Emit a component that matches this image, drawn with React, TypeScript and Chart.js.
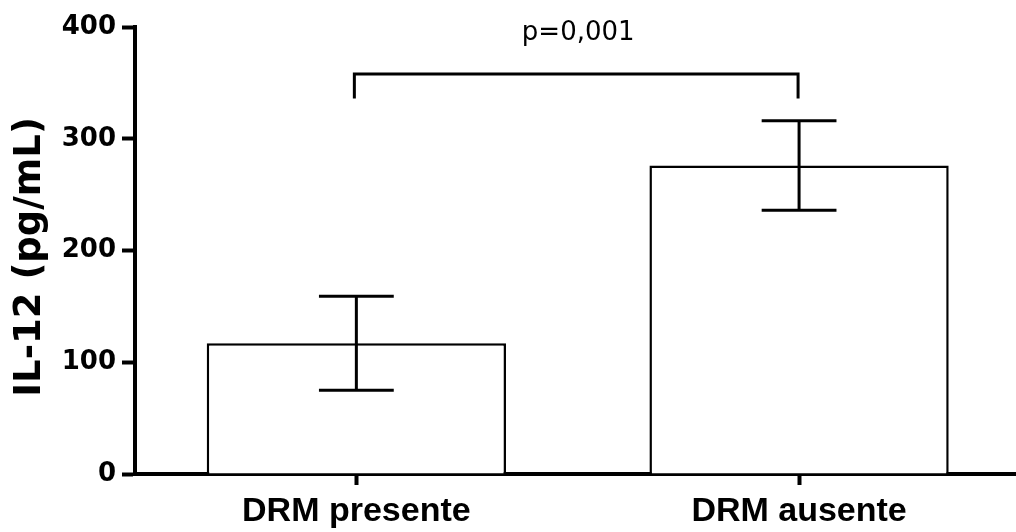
import React, { useEffect, useRef } from "react";
import { Chart, registerables } from "chart.js";

Chart.register(...registerables);

const categories = ["DRM presente", "DRM ausente"];
const means = [117, 276];
const errors = [42, 40];
const yTickValues = [0, 100, 200, 300, 400];
const yTitle = "IL-12 (pg/mL) ";
const pLabel = "p=0,001";
const bracketLevel = 358;
const bracketFoot = 336;
const pLabelLevel = 394;

const errorBarPlugin = {
  id: "errorBars",
  afterDatasetsDraw(chart: any) {
    const { ctx } = chart;
    const y = chart.scales.y;
    const meta = chart.getDatasetMeta(0);
    ctx.save();
    ctx.strokeStyle = "#000";
    ctx.lineWidth = 3;
    ctx.lineCap = "butt";
    meta.data.forEach((bar: any, i: number) => {
      const x = bar.x;
      const half = bar.width * 0.125;
      const top = y.getPixelForValue(means[i] + errors[i]);
      const bot = y.getPixelForValue(means[i] - errors[i]);
      ctx.beginPath();
      ctx.moveTo(x, top);
      ctx.lineTo(x, bot);
      ctx.moveTo(x - half, top);
      ctx.lineTo(x + half, top);
      ctx.moveTo(x - half, bot);
      ctx.lineTo(x + half, bot);
      ctx.stroke();
    });
    ctx.restore();
  },
};

const bracketPlugin = {
  id: "bracket",
  afterDraw(chart: any) {
    const { ctx } = chart;
    const x = chart.scales.x;
    const y = chart.scales.y;
    const x1 = x.getPixelForValue(0) - 2;
    const x2 = x.getPixelForValue(1) - 1;
    const yTop = y.getPixelForValue(bracketLevel);
    const yFoot = y.getPixelForValue(bracketFoot);
    ctx.save();
    ctx.strokeStyle = "#000";
    ctx.lineWidth = 3;
    ctx.lineJoin = "miter";
    ctx.beginPath();
    ctx.moveTo(x1, yFoot);
    ctx.lineTo(x1, yTop);
    ctx.lineTo(x2, yTop);
    ctx.lineTo(x2, yFoot);
    ctx.stroke();
    ctx.fillStyle = "#000";
    ctx.font = "26px 'DejaVu Sans'";
    ctx.textAlign = "center";
    ctx.textBaseline = "middle";
    ctx.fillText(pLabel, (x1 + x2) / 2 + 2, y.getPixelForValue(pLabelLevel));
    ctx.restore();
  },
};

export default function App() {
  const canvasRef = useRef<HTMLCanvasElement | null>(null);

  useEffect(() => {
    if (!canvasRef.current) return;
    const chart = new Chart(canvasRef.current, {
      type: "bar",
      data: {
        datasets: [
          {
            data: means.map((v, i) => ({ x: i, y: v })),
            backgroundColor: "#ffffff",
            borderColor: "#000000",
            borderWidth: 2.5,
            borderSkipped: "start",
            barPercentage: 0.676,
            categoryPercentage: 1,
          },
        ],
      },
      options: {
        animation: false,
        responsive: true,
        maintainAspectRatio: false,
        layout: { padding: { top: 27, right: 0, left: 0, bottom: 0 } },
        plugins: {
          legend: { display: false },
          tooltip: { enabled: false },
        },
        scales: {
          x: {
            type: "linear",
            min: -0.5,
            max: 1.49,
            offset: false,
            afterBuildTicks: (scale: any) => {
              scale.ticks = categories.map((_, i) => ({ value: i }));
            },
            afterFit: (scale: any) => {
              scale.height = 58;
            },
            ticks: {
              autoSkip: false,
              maxRotation: 0,
              padding: 6,
              color: "#000",
              font: { family: "'Liberation Sans', Arial, sans-serif", size: 34, weight: "bold" },
              callback: (v: any) => categories[v] ?? "",
            },
            grid: {
              offset: false,
              drawOnChartArea: false,
              drawTicks: true,
              tickLength: 11,
              tickWidth: 4,
              tickColor: "#000",
            },
            border: { display: true, color: "#000", width: 4 },
          },
          y: {
            type: "linear",
            min: 0,
            max: 400,
            afterBuildTicks: (scale: any) => {
              scale.ticks = yTickValues.map((v) => ({ value: v }));
            },
            afterFit: (scale: any) => {
              scale.width = 135;
            },
            ticks: {
              padding: 6,
              color: "#000",
              font: { family: "'DejaVu Sans'", size: 26, weight: "bold" },
            },
            grid: {
              drawOnChartArea: false,
              drawTicks: true,
              tickLength: 13,
              tickWidth: 4,
              tickColor: "#000",
            },
            border: { display: true, color: "#000", width: 4 },
            title: {
              display: true,
              text: yTitle,
              color: "#000",
              font: { family: "'DejaVu Sans'", size: 37, weight: "bold" },
              padding: { top: 8, bottom: 0 },
            },
          },
        },
      },
      plugins: [errorBarPlugin, bracketPlugin],
    } as any);
    return () => chart.destroy();
  }, []);

  return (
    <div
      style={{
        position: "fixed",
        left: 0,
        top: 0,
        width: 1016,
        height: 532,
        background: "#fff",
      }}
    >
      <canvas ref={canvasRef} />
    </div>
  );
}
